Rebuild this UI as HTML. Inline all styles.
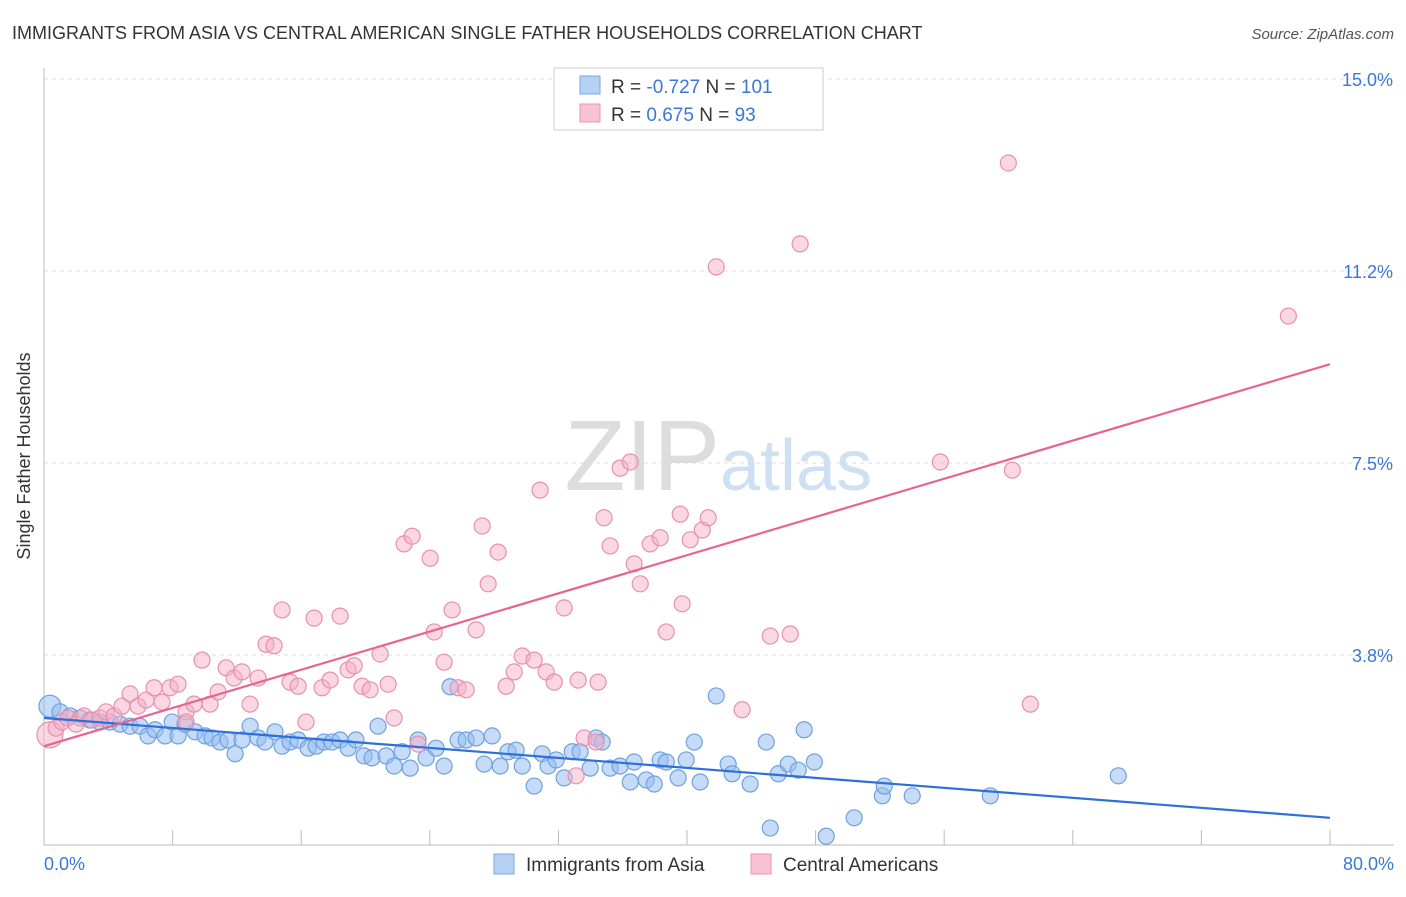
<!DOCTYPE html>
<html><head><meta charset="utf-8"><style>
body{margin:0;background:#fff;font-family:"Liberation Sans",sans-serif;}
svg text{font-family:"Liberation Sans",sans-serif;}
</style></head><body>
<svg width="1406" height="892" id="chart">
<text x="12" y="39" font-size="18" fill="#333">IMMIGRANTS FROM ASIA VS CENTRAL AMERICAN SINGLE FATHER HOUSEHOLDS CORRELATION CHART</text>
<text x="1394" y="39" font-size="15" fill="#555" text-anchor="end" font-style="italic">Source: ZipAtlas.com</text>
<g id="grid"></g>
<text x="720" y="490" font-size="100" fill="#ddd" text-anchor="end" font-family="Liberation Serif">ZIP</text>
<text x="720" y="490" font-size="72" fill="#cfe0f3">atlas</text>
<g id="axes"></g>
<g id="pts"></g>
<g id="lines"></g>
<text x="30" y="456" font-size="18" fill="#333" text-anchor="middle" transform="rotate(-90 30 456)">Single Father Households</text>
<text x="44" y="870" font-size="18" fill="#3a78d8">0.0%</text>
<text x="1394" y="870" font-size="18" fill="#3a78d8" text-anchor="end">80.0%</text>
<g>
<rect x="554" y="68" width="269" height="62" fill="#fff" stroke="#ccc"/>
<rect x="580" y="76" width="20" height="18" fill="#b6d1f3" stroke="#7aa7e2"/>
<rect x="580" y="104" width="20" height="18" fill="#f8c2d3" stroke="#eb97b2"/>
<text x="611" y="93" font-size="19" fill="#333">R = <tspan fill="#3a78d8">-0.727</tspan>   N = <tspan fill="#3a78d8">101</tspan></text>
<text x="611" y="121" font-size="19" fill="#333">R =   <tspan fill="#3a78d8">0.675</tspan>   N =   <tspan fill="#3a78d8">93</tspan></text>
</g>
<g>
<rect x="494" y="854" width="20" height="20" fill="#b6d1f3" stroke="#7aa7e2"/>
<text x="526" y="871" font-size="19" fill="#333">Immigrants from Asia</text>
<rect x="751" y="854" width="20" height="20" fill="#f8c2d3" stroke="#eb97b2"/>
<text x="783" y="871" font-size="19" fill="#333">Central Americans</text>
</g>
</svg>
<script>
const yTicks=[3.75,7.5,11.25,15];
const yTickLabels=["3.8%","7.5%","11.2%","15.0%"];
const xTicks=[0,8,16,24,32,40,48,56,64,72,80];
const asiaX=[0.37,1.0,1.62,2.24,2.86,3.48,4.1,4.73,5.35,5.97,6.47,6.91,7.53,7.97,8.34,8.77,9.4,10.02,10.45,10.95,11.45,11.89,12.32,12.82,13.32,13.75,14.37,14.81,15.31,15.81,16.43,16.93,17.42,17.92,18.42,18.92,19.41,19.91,20.41,20.78,21.28,21.78,22.28,22.78,23.27,23.77,24.39,24.89,25.26,25.76,26.26,26.88,27.38,27.88,28.38,28.87,29.37,29.75,30.49,30.99,31.36,31.86,32.36,32.86,33.35,33.98,34.35,34.72,35.22,35.84,36.47,36.71,37.46,37.96,38.33,38.71,39.45,39.95,40.45,40.82,41.82,42.56,42.81,43.93,44.93,45.18,45.68,46.3,46.92,47.29,47.92,48.66,50.4,52.15,52.27,54.01,58.87,66.83];
const asiaY=[2.75,2.64,2.56,2.52,2.48,2.44,2.44,2.40,2.36,2.36,2.17,2.29,2.17,2.44,2.17,2.40,2.25,2.17,2.13,2.05,2.09,1.82,2.09,2.36,2.13,2.05,2.25,1.97,2.05,2.09,1.93,1.97,2.05,2.05,2.09,1.93,2.09,1.78,1.74,2.36,1.78,1.58,1.86,1.54,2.09,1.74,1.93,1.58,3.13,2.09,2.09,2.13,1.62,2.17,1.58,1.86,1.89,1.58,1.19,1.82,1.58,1.70,1.35,1.86,1.86,1.54,2.13,2.05,1.54,1.58,1.27,1.66,1.31,1.23,1.70,1.66,1.35,1.70,2.05,1.27,2.95,1.62,1.43,1.23,2.05,0.37,1.43,1.62,1.50,2.29,1.66,0.21,0.57,1.00,1.19,1.00,1.00,1.39];
const centX=[0.37,0.75,1.12,1.49,1.99,2.49,2.99,3.48,3.86,4.36,4.85,5.35,5.85,6.35,6.85,7.34,7.84,8.34,8.84,8.84,9.33,9.83,10.33,10.83,11.33,11.82,12.32,12.82,13.32,13.81,14.31,14.81,15.31,15.81,16.3,16.8,17.3,17.8,18.42,18.92,19.29,19.79,20.29,20.91,21.41,21.78,22.4,22.9,23.27,24.02,24.27,24.89,25.39,25.76,26.26,26.88,27.26,27.63,28.25,28.75,29.25,29.75,30.49,30.86,31.24,31.74,32.36,33.1,33.23,33.6,34.35,34.47,34.84,35.22,35.84,36.47,36.71,37.09,37.71,38.33,38.71,39.58,39.7,40.2,40.95,41.32,41.82,43.43,45.18,46.42,47.04,55.76,59.99,60.24,61.36,77.41];
const centY=[2.19,2.32,2.44,2.52,2.40,2.56,2.48,2.52,2.64,2.56,2.75,2.99,2.75,2.87,3.11,2.83,3.11,3.18,2.64,2.44,2.79,3.65,2.79,3.03,3.50,3.30,3.42,2.79,3.30,3.96,3.93,4.63,3.22,3.14,2.44,4.47,3.11,3.26,4.51,3.46,3.54,3.14,3.07,3.77,3.18,2.52,5.92,6.07,2.01,5.64,4.20,3.61,4.63,3.11,3.07,4.24,6.27,5.14,5.76,3.14,3.42,3.73,3.65,6.97,3.42,3.22,4.67,1.39,3.26,2.13,2.05,3.22,6.43,5.88,7.40,7.52,5.53,5.14,5.92,6.04,4.20,6.50,4.75,6.00,6.19,6.43,11.33,2.68,4.12,4.16,11.78,7.52,13.36,7.36,2.79,10.37];
const asiaTrend=[2.52,0.57];
const centTrend=[1.97,9.43];
const trendX=[0,80];
const NS="http://www.w3.org/2000/svg";
const X0=44,X1=1330,Y0=847;
const xs=v=>X0+(X1-X0)*v/80;
const ys=v=>Y0-v*51.2;
function mk(tag,attrs,parent){const e=document.createElementNS(NS,tag);for(const k in attrs)e.setAttribute(k,attrs[k]);parent.appendChild(e);return e;}
const grid=document.getElementById('grid'),axes=document.getElementById('axes'),pts=document.getElementById('pts'),lines=document.getElementById('lines');
yTicks.forEach((t,i)=>{
 const g=mk('line',{x1:X0,x2:1394,y1:ys(t),y2:ys(t),stroke:'#ddd','stroke-dasharray':'4,4'},grid);
 
 
 const tx=mk('text',{x:1393,y:ys(t)+7,'font-size':18,fill:'#3a78d8','text-anchor':'end'},axes);
 tx.textContent=yTickLabels[i];
 
 
});
const ax=mk('line',{x1:X0,x2:1394,y1:845,y2:845,stroke:'#bbb'},axes);


const ay=mk('line',{x1:X0,x2:X0,y1:68,y2:845,stroke:'#bbb'},axes);


xTicks.forEach(t=>{
 const l=mk('line',{x1:xs(t),x2:xs(t),y1:830,y2:845,stroke:'#bbb'},axes);
 
 
});
asiaX.forEach((v,i)=>{
 const c=mk('circle',{cx:xs(v),cy:ys(asiaY[i]),r:i==0?11:8,fill:'rgba(150,190,240,0.55)',stroke:'#6fa0e0','stroke-width':1.2},pts);
 
 
});
centX.forEach((v,i)=>{
 const c=mk('circle',{cx:xs(v),cy:ys(centY[i]),r:i==0?13:8,fill:'rgba(245,175,200,0.5)',stroke:'#e890ac','stroke-width':1.2},pts);
 
 
});
const l1=mk('line',{x1:xs(trendX[0]),y1:ys(asiaTrend[0]),x2:xs(trendX[1]),y2:ys(asiaTrend[1]),stroke:'#2f6fd8','stroke-width':2.2},lines);


const l2=mk('line',{x1:xs(trendX[0]),y1:ys(centTrend[0]),x2:xs(trendX[1]),y2:ys(centTrend[1]),stroke:'#e86490','stroke-width':2.2},lines);


</script>
</body></html>
